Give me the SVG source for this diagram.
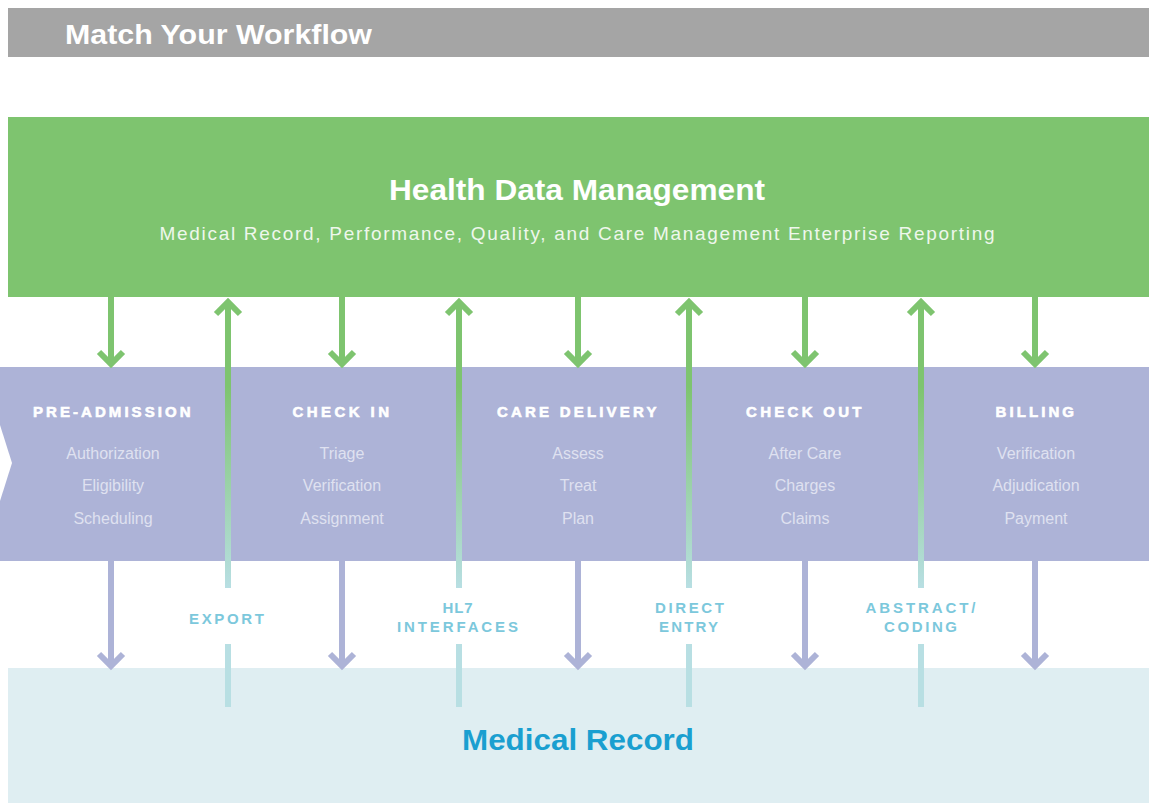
<svg xmlns="http://www.w3.org/2000/svg" width="1149" height="803" viewBox="0 0 1149 803">
<defs>
<linearGradient id="up" gradientUnits="userSpaceOnUse" x1="0" y1="300" x2="0" y2="588">
<stop offset="0.3" stop-color="#7ec46f"/>
<stop offset="1" stop-color="#b8dfe3"/>
</linearGradient>
</defs>
<style>
text{font-family:"Liberation Sans",Arial,sans-serif}
.hd{font-weight:bold;font-size:15px;fill:#ffffff;stroke:#ffffff;stroke-width:0.6px;text-anchor:middle;letter-spacing:2.5px}
.it{font-size:16px;fill:#dfe1f0;text-anchor:middle}
.lb{font-weight:bold;font-size:15px;fill:#7cc8dc;text-anchor:middle;letter-spacing:3px}
.gd{stroke:#7ec46f;stroke-width:6;fill:none}
.pd{stroke:#adb3d7;stroke-width:6;fill:none}
.ug{stroke:url(#up);stroke-width:6;fill:none}
.lbl{stroke:#b8dfe3;stroke-width:6;fill:none}
</style>
<rect width="1149" height="803" fill="#ffffff"/>
<g id="header">
<rect x="8" y="8" width="1141" height="49" fill="#a5a5a5"/>
<text x="65" y="44" font-size="28" font-weight="bold" fill="#ffffff" textLength="307" lengthAdjust="spacingAndGlyphs">Match Your Workflow</text>
</g>
<g id="hdm">
<rect x="8" y="117" width="1141" height="180" fill="#7ec46f"/>
<text x="577" y="200" font-size="29" font-weight="bold" fill="#ffffff" text-anchor="middle" textLength="376" lengthAdjust="spacingAndGlyphs">Health Data Management</text>
<text x="577" y="240" font-size="19" fill="#eef7ec" text-anchor="middle" textLength="835" lengthAdjust="spacing">Medical Record, Performance, Quality, and Care Management Enterprise Reporting</text>
</g>
<g id="workflow">
<rect x="0" y="367" width="1149" height="194" fill="#adb3d7"/>
<polygon points="0,425 12,463 0,501" fill="#ffffff"/>
</g>
<g id="medical-record">
<rect x="8" y="668" width="1141" height="135" fill="#dfeef2"/>
<text x="578" y="750" font-size="29" font-weight="bold" fill="#1a9fd0" text-anchor="middle" textLength="232" lengthAdjust="spacingAndGlyphs">Medical Record</text>
</g>
<g id="connectors">
<g class="gd">
<path d="M111 297V362M99 352L111 364L123 352"/>
<path d="M342 297V362M330 352L342 364L354 352"/>
<path d="M578 297V362M566 352L578 364L590 352"/>
<path d="M805 297V362M793 352L805 364L817 352"/>
<path d="M1035 297V362M1023 352L1035 364L1047 352"/>
</g>
<g class="pd">
<path d="M111 561V664M99 654L111 666L123 654"/>
<path d="M342 561V664M330 654L342 666L354 654"/>
<path d="M578 561V664M566 654L578 666L590 654"/>
<path d="M805 561V664M793 654L805 666L817 654"/>
<path d="M1035 561V664M1023 654L1035 666L1047 654"/>
</g>
<g class="ug">
<path d="M228 302V588M216 314L228 302L240 314"/>
<path d="M459 302V588M447 314L459 302L471 314"/>
<path d="M689 302V588M677 314L689 302L701 314"/>
<path d="M921 302V588M909 314L921 302L933 314"/>
</g>
<g class="lbl">
<path d="M228 644V707"/>
<path d="M459 644V707"/>
<path d="M689 644V707"/>
<path d="M921 644V707"/>
</g>
</g>
<g id="pre-admission">
<text class="hd" x="113" y="417" textLength="160">PRE-ADMISSION</text>
<text class="it" x="113" y="459">Authorization</text>
<text class="it" x="113" y="491">Eligibility</text>
<text class="it" x="113" y="524">Scheduling</text>
</g>
<g id="check-in">
<text class="hd" x="342" y="417" textLength="99">CHECK IN</text>
<text class="it" x="342" y="459">Triage</text>
<text class="it" x="342" y="491">Verification</text>
<text class="it" x="342" y="524">Assignment</text>
</g>
<g id="care-delivery">
<text class="hd" x="578" y="417" textLength="162">CARE DELIVERY</text>
<text class="it" x="578" y="459">Assess</text>
<text class="it" x="578" y="491">Treat</text>
<text class="it" x="578" y="524">Plan</text>
</g>
<g id="check-out">
<text class="hd" x="805" y="417" textLength="118">CHECK OUT</text>
<text class="it" x="805" y="459">After Care</text>
<text class="it" x="805" y="491">Charges</text>
<text class="it" x="805" y="524">Claims</text>
</g>
<g id="billing">
<text class="hd" x="1036" y="417" textLength="81">BILLING</text>
<text class="it" x="1036" y="459">Verification</text>
<text class="it" x="1036" y="491">Adjudication</text>
<text class="it" x="1036" y="524">Payment</text>
</g>
<g id="labels">
<text class="lb" x="228" y="624" textLength="78">EXPORT</text>
<text class="lb" x="459" y="613" textLength="33">HL7</text>
<text class="lb" x="459" y="632" textLength="124">INTERFACES</text>
<text class="lb" x="691" y="613" textLength="72">DIRECT</text>
<text class="lb" x="690" y="632" textLength="62">ENTRY</text>
<text class="lb" x="922" y="613" textLength="113">ABSTRACT/</text>
<text class="lb" x="922" y="632" textLength="76">CODING</text>
</g>
</svg>
